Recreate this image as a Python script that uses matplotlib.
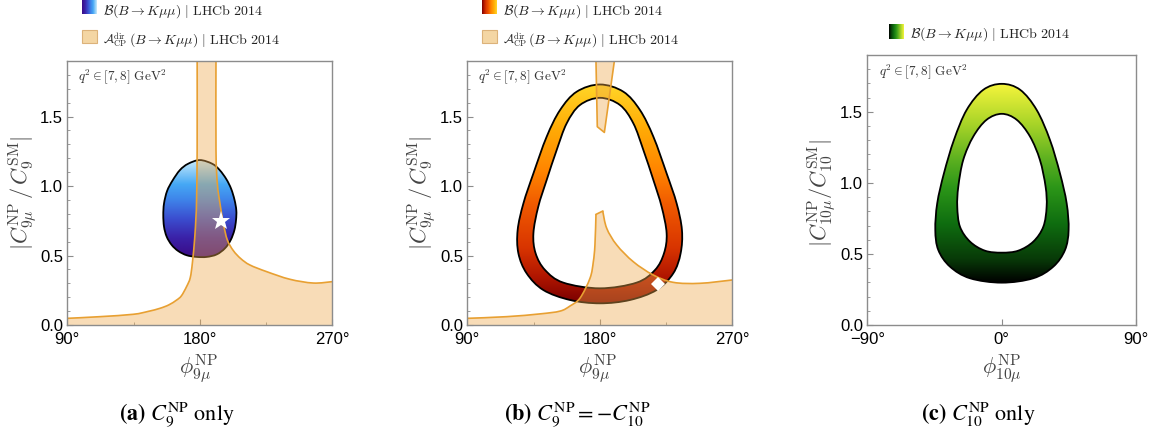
import numpy as np
import matplotlib
matplotlib.use('Agg')
import matplotlib.pyplot as plt
from matplotlib.path import Path
from matplotlib.patches import PathPatch, Rectangle, Polygon
from matplotlib.colors import LinearSegmentedColormap
from matplotlib.ticker import MultipleLocator, FixedLocator

# ---------------- data ----------------
# (a) C9 only: B(B->Kmumu) allowed region (closed contour)
egg_a_phi = [180.0, 188.5, 193.5, 198.0, 201.3, 203.6, 204.8, 204.6, 203.5, 201.0, 197.1, 191.5,
             184.7, 177.9, 171.1, 165.4, 160.9, 157.5, 155.7, 155.2, 155.7, 157.8, 161.5, 166.5,
             172.0]
egg_a_r = [1.187, 1.160, 1.115, 1.050, 0.980, 0.900, 0.825, 0.755, 0.683, 0.612, 0.552, 0.508,
           0.490, 0.490, 0.502, 0.532, 0.576, 0.636, 0.707, 0.791, 0.875, 0.965, 1.040, 1.115,
           1.160]
# (a) A_CP region boundaries
acp_a_left_phi = [178.2, 178.2, 177.8, 177.4, 176.5, 175.0, 173.5, 171.0, 167.5, 164.3, 159.0,
                  152.9, 145.0, 134.8, 112.2, 90.0]
acp_a_left_r = [1.95, 1.26, 0.90, 0.78, 0.62, 0.45, 0.34, 0.276, 0.21, 0.180, 0.145,
                0.120, 0.098, 0.077, 0.060, 0.048]
acp_a_right_phi = [191.0, 191.0, 191.9, 193.7, 196.0, 198.7, 202.8, 207.8, 214.0, 225.4,
                   241.2, 257.1, 270.0]
acp_a_right_r = [1.95, 1.26, 1.02, 0.875, 0.731, 0.612, 0.535, 0.478, 0.432, 0.384,
                 0.329, 0.302, 0.312]
star_phi = [194.6]
star_r = [0.745]

# (b) C9 = -C10: ring
ring_b_outer_phi = [180.1, 196.0, 207.3, 216.4, 225.4, 232.2, 235.8, 234.9, 229.9, 218.6, 200.5,
                    180.1, 159.8, 141.6, 130.3, 124.7, 124.2, 128.1, 134.9, 143.9, 153.0, 164.3]
ring_b_outer_r = [1.731, 1.679, 1.547, 1.355, 1.091, 0.875, 0.683, 0.516, 0.372, 0.252, 0.180,
                  0.156, 0.180, 0.252, 0.372, 0.516, 0.683, 0.875, 1.091, 1.355, 1.547, 1.679]
ring_b_inner_phi = [180.1, 193.7, 202.8, 209.6, 216.4, 222.0, 225.4, 223.6, 217.5, 205.0, 180.1,
                    155.2, 142.8, 136.4, 134.9, 138.2, 143.9, 150.7, 157.5, 166.5]
ring_b_inner_r = [1.635, 1.583, 1.451, 1.259, 1.043, 0.851, 0.659, 0.516, 0.396, 0.305, 0.264,
                  0.305, 0.396, 0.516, 0.659, 0.851, 1.043, 1.259, 1.451, 1.583]
# (b) A_CP regions
acp_b_sliver_phi = [177.4, 178.3, 183.1, 189.9]
acp_b_sliver_r = [1.90, 1.427, 1.386, 1.90]
acp_b_left_phi = [177.4, 176.7, 175.6, 173.4, 166.6, 159.8, 153.0, 139.4, 116.8, 90.0]
acp_b_left_r = [0.796, 0.576, 0.455, 0.338, 0.194, 0.137, 0.100, 0.080, 0.060, 0.048]
acp_b_right_phi = [182.0, 184.7, 191.5, 202.8, 216.3, 229.9, 248.0, 270.0]
acp_b_right_r = [0.820, 0.696, 0.576, 0.455, 0.360, 0.307, 0.300, 0.324]
diamond_phi = [219.3]
diamond_r = [0.293]

# (c) C10 only: ring
ring_c_outer_phi = [0.0, 12.3, 23.3, 32.2, 38.9, 43.4, 44.7, 42.3, 34.5, 21.1, 0.0,
                    -21.3, -34.7, -42.5, -44.5, -43.2, -38.7, -32.0, -23.5, -12.4]
ring_c_outer_r = [1.697, 1.655, 1.514, 1.303, 1.068, 0.857, 0.669, 0.528, 0.411, 0.329, 0.298,
                  0.329, 0.411, 0.528, 0.669, 0.857, 1.068, 1.303, 1.514, 1.655]
ring_c_inner_phi = [0.0, 10.0, 18.9, 25.5, 29.3, 30.0, 27.8, 21.1, 11.0, 0.0,
                    -11.3, -21.3, -28.0, -29.8, -29.1, -25.8, -19.1, -10.2]
ring_c_inner_r = [1.486, 1.444, 1.326, 1.162, 0.974, 0.833, 0.692, 0.587, 0.523, 0.509,
                  0.523, 0.587, 0.692, 0.833, 0.974, 1.162, 1.326, 1.444]

xticks_ab = [90, 180, 270]
xticklabels_ab = ['90°', '180°', '270°']
xminor_ab = [135, 225]
xticks_c = [-90, 0, 90]
xticklabels_c = ['\u221290°', '0°', '90°']
yticks = [0.0, 0.5, 1.0, 1.5]
yticklabels = ['0.0', '0.5', '1.0', '1.5']

legend_B = r'$\mathcal{B}(B\to K\mu\mu)\ |\ \mathrm{LHCb\ 2014}$'
legend_A_sym = r'$\mathcal{A}_{\mathrm{CP}}^{\mathrm{dir}}$'
legend_A_rest = r'$(B\to K\mu\mu)\ |\ \mathrm{LHCb\ 2014}$'
qtext = r'$q^2\in[7,8]\ \mathrm{GeV}^2$'
ylabel_9 = r'$|C^{\mathrm{NP}}_{9\mu}\,/\,C^{\mathrm{SM}}_{9}|$'
ylabel_10 = r'$|C^{\mathrm{NP}}_{10\mu}/C^{\mathrm{SM}}_{10}|$'
xlabel_9 = r'$\phi^{\mathrm{NP}}_{9\mu}$'
xlabel_10 = r'$\phi^{\mathrm{NP}}_{10\mu}$'
captions = [r'$\mathbf{(a)}\ C_9^{\mathrm{NP}}\ \mathrm{only}$',
            r'$\mathbf{(b)}\ C_9^{\mathrm{NP}}=-C_{10}^{\mathrm{NP}}$',
            r'$\mathbf{(c)}\ C_{10}^{\mathrm{NP}}\ \mathrm{only}$']

# ---------------- styles ----------------
cmap_a = LinearSegmentedColormap.from_list('a', [(0, '#3a0a86'), (0.2, '#3a22a8'), (0.4, '#3b4fd0'),
                                                 (0.6, '#3f86ea'), (0.75, '#45a8f5'), (1.0, '#c8eafb')])
cmap_b = LinearSegmentedColormap.from_list('b', [(0, '#7a0000'), (0.12, '#b01600'), (0.25, '#d83400'),
                                                 (0.45, '#f05a00'), (0.6, '#ff8400'), (0.8, '#ffac06'),
                                                 (1.0, '#ffd628')])
cmap_c = LinearSegmentedColormap.from_list('c', [(0, '#000000'), (0.12, '#083a08'), (0.3, '#0f6e10'),
                                                 (0.48, '#2c9618'), (0.62, '#5cb020'), (0.8, '#a8d428'),
                                                 (1.0, '#f4f43c')])
ORANGE_FACE = '#eea94d'
ORANGE_ALPHA = 0.4
ORANGE_EDGE = '#e8a032'
FRAME = '#8c8c8c'

W, H = 1158, 436
fig = plt.figure(figsize=(W / 100, H / 100), dpi=100)


def fx(px):
    return px / W


def fy(py):
    return 1 - py / H


def closed_curve(xs, ys, reverse=False):
    P = np.column_stack([xs, ys]).astype(float)
    if reverse:
        P = P[::-1]
    n = len(P)
    verts = [P[0]]
    codes = [Path.MOVETO]
    for i in range(n):
        p0, p1, p2, p3 = P[i - 1], P[i], P[(i + 1) % n], P[(i + 2) % n]
        verts += [p1 + (p2 - p0) / 6, p2 - (p3 - p1) / 6, p2]
        codes += [Path.CURVE4] * 3
    verts.append(P[0])
    codes.append(Path.CLOSEPOLY)
    return verts, codes


def open_curve(xs, ys, first_code=Path.MOVETO):
    """Smooth curve through the given points (Catmull-Rom drawn as Bezier)."""
    P = np.column_stack([xs, ys]).astype(float)
    n = len(P)
    verts = [P[0]]
    codes = [first_code]
    for i in range(n - 1):
        p0 = P[i - 1] if i > 0 else P[i]
        p1, p2 = P[i], P[i + 1]
        p3 = P[i + 2] if i + 2 < n else P[i + 1]
        verts += [p1 + (p2 - p0) / 6, p2 - (p3 - p1) / 6, p2]
        codes += [Path.CURVE4] * 3
    return verts, codes


def gradient_region(ax, path, cmap, ys):
    xs = path.vertices[:, 0]
    grad = np.linspace(0, 1, 256).reshape(-1, 1)
    im = ax.imshow(grad, extent=[xs.min(), xs.max(), min(ys), max(ys)], origin='lower',
                   aspect='auto', cmap=cmap, zorder=1, interpolation='bilinear')
    clip = PathPatch(path, transform=ax.transData, facecolor='none', edgecolor='none')
    im.set_clip_path(clip)
    ax.add_patch(PathPatch(path, facecolor='none', edgecolor='black', lw=1.3, zorder=2))


def style(ax, xlim, xt, xtl, xminor):
    ax.set_xlim(*xlim)
    ax.set_ylim(0, 1.9)
    for s in ax.spines.values():
        s.set_color(FRAME)
        s.set_linewidth(1.0)
        s.set_zorder(6)
    ax.set_xticks(xt)
    ax.set_xticklabels(xtl)
    ax.xaxis.set_minor_locator(FixedLocator(xminor))
    ax.set_yticks(yticks)
    ax.set_yticklabels(yticklabels)
    ax.yaxis.set_minor_locator(MultipleLocator(0.1))
    ax.tick_params(which='both', direction='in', color=FRAME, top=False, right=False)
    ax.tick_params(axis='x', which='major', length=4, width=0.8, labelsize=12, pad=5,
                   labelfontfamily='Liberation Sans')
    ax.tick_params(axis='y', which='major', length=4, width=0.8, labelsize=12, pad=3,
                   labelfontfamily='Liberation Sans')
    ax.tick_params(which='minor', length=2.5, width=0.6)
    ax.text(0.042, 0.94, qtext, transform=ax.transAxes, fontsize=9.5, va='center', ha='left',
            color='#333333', math_fontfamily='cm', zorder=7)


def acp_fill(ax, left_phi, left_r, right_phi, right_r, xl, xr):
    lv, lc = open_curve(left_phi[::-1], left_r[::-1])
    rv, rc = open_curve(right_phi, right_r, first_code=Path.LINETO)
    verts = lv + rv + [(xr, 0), (xl, 0), (xl, 0)]
    codes = lc + rc + [Path.LINETO, Path.LINETO, Path.CLOSEPOLY]
    ax.add_patch(PathPatch(Path(verts, codes), facecolor=ORANGE_FACE, alpha=ORANGE_ALPHA,
                           edgecolor='none', zorder=3))
    for xs, ys in [(left_phi, left_r), (right_phi, right_r)]:
        v, c = open_curve(xs, ys)
        ax.add_patch(PathPatch(Path(v, c), facecolor='none', edgecolor=ORANGE_EDGE, lw=1.2,
                               zorder=4))


# ---------------- panel (a) ----------------
ax_a = fig.add_axes([fx(67.3), fy(325), 265 / W, 264 / H])
v, c = closed_curve(egg_a_phi, egg_a_r)
gradient_region(ax_a, Path(v, c), cmap_a, egg_a_r)
acp_fill(ax_a, acp_a_left_phi, acp_a_left_r, acp_a_right_phi, acp_a_right_r, 90, 270)
ax_a.plot(star_phi, star_r, marker='*', color='white', markersize=14, markeredgewidth=0,
          linestyle='none', zorder=5)
style(ax_a, (90, 270), xticks_ab, xticklabels_ab, xminor_ab)

# ---------------- panel (b) ----------------
ax_b = fig.add_axes([fx(467.3), fy(325), 265 / W, 264 / H])
vo, co = closed_curve(ring_b_outer_phi, ring_b_outer_r)
vi, ci = closed_curve(ring_b_inner_phi, ring_b_inner_r, reverse=True)
gradient_region(ax_b, Path(vo + vi, co + ci), cmap_b, ring_b_outer_r)
acp_fill(ax_b, acp_b_left_phi, acp_b_left_r, acp_b_right_phi, acp_b_right_r, 90, 270)
ax_b.add_patch(Polygon(list(zip(acp_b_sliver_phi, acp_b_sliver_r)), closed=True,
                       facecolor=ORANGE_FACE, alpha=ORANGE_ALPHA, edgecolor='none', zorder=3))
ax_b.plot(acp_b_sliver_phi, acp_b_sliver_r, color=ORANGE_EDGE, lw=1.2, zorder=4)
ax_b.plot([acp_b_left_phi[0], acp_b_right_phi[0]], [acp_b_left_r[0], acp_b_right_r[0]],
          color=ORANGE_EDGE, lw=1.2, zorder=4)
ax_b.plot(diamond_phi, diamond_r, marker='D', color='white', markersize=7.5, markeredgewidth=0,
          linestyle='none', zorder=5)
style(ax_b, (90, 270), xticks_ab, xticklabels_ab, xminor_ab)

# ---------------- panel (c) ----------------
ax_c = fig.add_axes([fx(867.3), fy(325), 269 / W, 270 / H])
vo, co = closed_curve(ring_c_outer_phi, ring_c_outer_r)
vi, ci = closed_curve(ring_c_inner_phi, ring_c_inner_r, reverse=True)
gradient_region(ax_c, Path(vo + vi, co + ci), cmap_c, ring_c_outer_r)
style(ax_c, (-90, 90), xticks_c, xticklabels_c, [])

# ---------------- axis labels ----------------
for xc, lab in [(23, ylabel_9), (422, ylabel_9), (822, ylabel_10)]:
    fig.text(fx(xc), fy(193), lab, rotation=90, ha='center', va='center', fontsize=16,
             color='#444444', math_fontfamily='cm')
for xc, lab in [(199, xlabel_9), (598, xlabel_9), (1002, xlabel_10)]:
    fig.text(fx(xc), fy(369), lab, ha='center', va='center', fontsize=16,
             color='#444444', math_fontfamily='cm')

# ---------------- captions ----------------
for xc, cap in zip([177, 577, 978], captions):
    fig.text(fx(xc), fy(415), cap, ha='center', va='center', fontsize=16, color='black',
             math_fontfamily='stix')

# ---------------- legends ----------------
LEG_FS = 10.0


def grad_legend(x0, ytop, ybot, cmap):
    lax = fig.add_axes([fx(x0), fy(ybot), 14.5 / W, (ybot - ytop) / H])
    lax.imshow(np.linspace(0, 1, 64).reshape(1, -1), aspect='auto', cmap=cmap)
    lax.set_axis_off()


def text_legend(x0, yc, s, fs=LEG_FS):
    return fig.text(fx(x0), fy(yc), s, ha='left', va='center', fontsize=fs, color='#222222',
                    math_fontfamily='cm')


def acp_legend(x0, ytop, ybot):
    fig.patches.append(Rectangle((fx(x0), fy(ybot)), 14.5 / W, (ybot - ytop) / H,
                                 transform=fig.transFigure, facecolor='#f4d6a4',
                                 edgecolor='#dcb27a', lw=0.8))


renderer = fig.canvas.get_renderer()


def acp_text(x0, yc, x_rest):
    t = text_legend(x0, yc, legend_A_sym, fs=9.0)
    end = t.get_window_extent(renderer).x1
    text_legend(max(x_rest, end + 0.5), yc, legend_A_rest)


grad_legend(82, -2, 14, cmap_a)
text_legend(103.3, 11.5, legend_B)
acp_legend(82, 30, 43.3)
acp_text(103.3, 40, 129)

grad_legend(482, -2, 14, cmap_b)
text_legend(502.7, 11.5, legend_B)
acp_legend(482, 30, 43.3)
acp_text(502.7, 40, 528.5)

grad_legend(889, 24, 38.7, cmap_c)
text_legend(910, 34, legend_B)

fig.savefig('out.png', dpi=100)
